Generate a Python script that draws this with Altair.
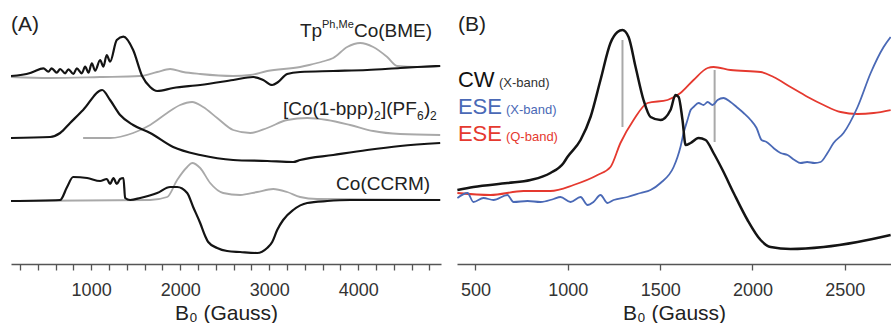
import altair as alt
import pandas as pd

FONT = "Liberation Sans"
BLACK = "#141414"
GRAY = "#a9a9a9"
BLUE = "#4a69b6"
RED = "#e5392f"

# ---------------- Panel (A): stacked spectra (B0 in Gauss, relative intensity) -----------
A_OFFSETS = [187, 126, 64]          # baselines of the three stacked traces

BME_BLACK_X = [100, 315, 352, 464, 520, 557, 614, 652, 708, 745, 801, 839, 895, 933, 970,
               1008, 1045, 1101, 1138, 1175, 1213, 1288, 1362, 1472, 1573, 1663, 1742, 1921,
               2225, 2596, 2820, 2933, 3034, 3101, 3202, 3348, 3719, 4101, 4472, 4663, 4921]
BME_BLACK_Y = [1, 4, 5.3, 8.7, 5.3, 8.7, 4.3, 8, 3.7, 7.7, 3, 8.7, 3.7, 10.3, 4.3,
               13.7, 6.3, 17, 10.3, 22, 15.3, 37, 40.3, 27, 1, -10, -14, -11,
               -8, -3, 0, -3, -8, -5, 3, 5, 6, 7, 9, 10, 11]
BME_GRAY_X = [100, 539, 1101, 1551, 1742, 1888, 2034, 2225, 2596, 2787, 2978, 3348, 3450,
              3539, 3600, 3719, 3876, 4022, 4169, 4326, 4438, 4663, 4921]
BME_GRAY_Y = [0, -1, 0, 1, 5, 8, 5, 3, 1, 2, 6, 10, 12, 14, 15.5, 19, 30, 34, 30, 20, 11, 10, 11]

BPP_BLACK_X = [100, 539, 652, 764, 910, 1124, 1213, 1326, 1472, 1663, 1921, 2225, 2596, 2978,
               3270, 3348, 3719, 4101, 4472, 4921]
BPP_BLACK_Y = [0, 1, 5, 15, 28, 48, 38, 23, 13, 5, -9, -17, -22, -23, -24, -22, -17, -12, -8, -5]
BPP_GRAY_X = [910, 1213, 1472, 1663, 1854, 2000, 2135, 2258, 2416, 2596, 2787, 2978, 3202,
              3427, 3652, 3910, 4169, 4472, 4921]
BPP_GRAY_Y = [0, 0, 5, 13, 25, 33, 36, 31, 20, 8, 5, 10, 18, 20, 18, 13, 7, 4, 3]

CCRM_BLACK_X = [100, 652, 730, 798, 955, 1101, 1176, 1213, 1251, 1288, 1326, 1363, 1382, 1438,
                1551, 1742, 1888, 1966, 2079, 2146, 2225, 2281, 2315, 2416, 2528, 2674, 2865,
                2977, 3034, 3090, 3157, 3270, 3427, 3652, 3910, 4921]
CCRM_BLACK_Y = [-1, 0, 13, 23, 22, 19, 21, 16, 22, 16, 21, 22, 2, 0,
                2, 7, 13, 13, 7, -7, -23, -36, -42, -48, -51, -52, -53,
                -48, -42, -30, -20, -10, -3, -1, 0, 0]
CCRM_GRAY_X = [100, 1663, 1854, 1966, 2079, 2135, 2225, 2337, 2483, 2674, 2865, 3045, 3202,
               3348, 3539, 4921]
CCRM_GRAY_Y = [-1, 0, 3, 20, 33, 37, 32, 17, 7, 5, 8, 11, 8, 3, 1, 0]

A_TICKS = list(range(200, 4801, 200))

# ---------------- Panel (B) -----------------------------------------------------------
CW_X = [402, 489, 673, 798, 906, 977, 998, 1069, 1123, 1177, 1231, 1269, 1296, 1329, 1367,
        1410, 1448, 1502, 1556, 1583, 1600, 1621, 1638, 1665, 1708, 1746, 1789, 1838, 1898,
        1973, 2044, 2098, 2206, 2385, 2569, 2748]
CW_Y = [74, 77, 81, 84, 91, 101, 107, 124, 147, 184, 221, 232, 234, 227, 197,
        164, 147, 144, 154, 169, 167, 144, 119, 121, 126, 124, 111, 94, 71,
        44, 24, 17, 15, 17, 22, 29]
Q_X = [402, 581, 760, 906, 1031, 1161, 1231, 1285, 1356, 1432, 1540, 1610, 1681, 1757, 1789,
       1881, 2044, 2114, 2206, 2299, 2385, 2477, 2569, 2656, 2748]
Q_Y = [71, 69, 73, 73, 79, 89, 97, 121, 144, 161, 164, 171, 184, 196, 197,
       194, 192, 187, 177, 167, 159, 152, 150, 151, 154]
X_X = [402, 457, 489, 543, 598, 673, 706, 782, 852, 923, 960, 1015, 1069, 1107, 1139, 1177,
       1215, 1248, 1323, 1394, 1448, 1502, 1573, 1594, 1610, 1627, 1648, 1665, 1681, 1708,
       1735, 1757, 1784, 1811, 1843, 1881, 1914, 1952, 1990, 2022, 2049, 2076, 2114, 2152,
       2190, 2228, 2261, 2296, 2336, 2369, 2406, 2439, 2493, 2569, 2640, 2710, 2748]
X_Y = [66, 71, 62, 66, 64, 69, 62, 63, 62, 65, 67, 62, 67, 59, 62, 69,
       61, 64, 67, 71, 74, 81, 97, 107, 117, 131, 144, 154, 157, 161,
       159, 162, 159, 164, 166, 162, 157, 151, 144, 136, 124, 122, 116, 111,
       109, 104, 101, 102, 101, 102, 111, 121, 131, 157, 191, 217, 227]
RULE_X = [1296, 1795]
RULE_Y1 = [137, 122]
RULE_Y2 = [224, 194]
B_TICKS = [500, 1000, 1500, 2000, 2500]

A_DOMAIN = [100, 4930]
B_DOMAIN = [400, 2750]
Y_DOMAIN = [0, 264]

axis_common = dict(title="B₀ (Gauss)", titleFont=FONT, titleFontSize=21, titleFontWeight="normal",
                   titleColor="#222", titlePadding=3, labelFont=FONT, labelFontSize=18,
                   labelColor="#333", labelPadding=11, tickSize=6, tickColor="#555",
                   tickWidth=1.3, domainColor="#555", domainWidth=1.5, grid=False,
                   labelOverlap=False, labelFlush=False, format="d")

AXES = {
    "A": alt.Axis(values=A_TICKS, labelExpr="datum.value % 1000 == 0 ? datum.label : ''",
                  **axis_common),
    "B": alt.Axis(values=B_TICKS, **axis_common),
}
DOMAINS = {"A": A_DOMAIN, "B": B_DOMAIN}


def xenc(p):
    return alt.X("B0:Q", scale=alt.Scale(domain=DOMAINS[p], nice=False, zero=False),
                 axis=AXES[p])


def yenc():
    return alt.Y("I:Q", scale=alt.Scale(domain=Y_DOMAIN, nice=False, zero=False), axis=None)


def line(xs, ys, offset, color, width, p):
    df = pd.DataFrame({"B0": xs, "I": [offset + v for v in ys]})
    return alt.Chart(df).mark_line(color=color, strokeWidth=width, interpolate="monotone",
                                   strokeJoin="round", clip=True).encode(x=xenc(p), y=yenc())


def label(x, y, text, size, color, p, dx=0, dy=0, align="left"):
    df = pd.DataFrame({"B0": [x], "I": [y], "t": [text]})
    return alt.Chart(df).mark_text(align=align, baseline="alphabetic", dx=dx, dy=dy,
                                   fontSize=size, font=FONT, color=color).encode(
        x=xenc(p), y=yenc(), text="t:N")


o1, o2, o3 = A_OFFSETS
layersA = [
    line(BME_GRAY_X, BME_GRAY_Y, o1, GRAY, 1.8, "A"),
    line(BME_BLACK_X, BME_BLACK_Y, o1, BLACK, 2.2, "A"),
    line(BPP_GRAY_X, BPP_GRAY_Y, o2, GRAY, 1.8, "A"),
    line(BPP_BLACK_X, BPP_BLACK_Y, o2, BLACK, 2.2, "A"),
    line(CCRM_GRAY_X, CCRM_GRAY_Y, o3, GRAY, 1.8, "A"),
    line(CCRM_BLACK_X, CCRM_BLACK_Y, o3, BLACK, 2.2, "A"),
    label(100, 233, "(A)", 21, "#222", "A"),
    label(3346, 227, "Tp", 19, "#222", "A"),
    label(3346, 227, "Ph,Me", 11, "#222", "A", dx=22, dy=-9),
    label(3346, 227, "Co(BME)", 19, "#222", "A", dx=54),
    label(3155, 149, "[Co(1-bpp)", 19, "#222", "A"),
    label(3155, 149, "2", 12, "#222", "A", dx=91, dy=5),
    label(3155, 149, "](PF", 19, "#222", "A", dx=98),
    label(3155, 149, "6", 12, "#222", "A", dx=134, dy=5),
    label(3155, 149, ")", 19, "#222", "A", dx=141),
    label(3155, 149, "2", 12, "#222", "A", dx=147, dy=5),
    label(4807, 74, "Co(CCRM)", 19, "#222", "A", align="right"),
]
chartA = alt.layer(*layersA).properties(width=430, height=264)

rules_df = pd.DataFrame({"B0": RULE_X, "I": RULE_Y1, "I2": RULE_Y2})
rules = alt.Chart(rules_df).mark_rule(color=GRAY, strokeWidth=2).encode(
    x=xenc("B"), y=yenc(), y2="I2:Q")

layersB = [
    rules,
    line(Q_X, Q_Y, 0, RED, 1.8, "B"),
    line(X_X, X_Y, 0, BLUE, 1.8, "B"),
    line(CW_X, CW_Y, 0, BLACK, 2.5, "B"),
    label(405, 233, "(B)", 21, "#222", "B"),
    label(405, 177, "CW", 22, "#111", "B"),
    label(405, 177, "(X-band)", 13, "#333", "B", dx=41),
    label(405, 150, "ESE", 22, BLUE, "B"),
    label(405, 150, "(X-band)", 13, BLUE, "B", dx=48),
    label(405, 123, "ESE", 22, RED, "B"),
    label(405, 123, "(Q-band)", 13, RED, "B", dx=48),
]
chartB = alt.layer(*layersB).properties(width=434, height=264)

chart = alt.hconcat(chartA, chartB, spacing=16).properties(
    padding={"left": 11, "right": 0, "top": 0, "bottom": 0},
    background="white",
).configure_view(stroke=None)

chart.save("out.html", embed_options={"renderer": "svg", "actions": False})
